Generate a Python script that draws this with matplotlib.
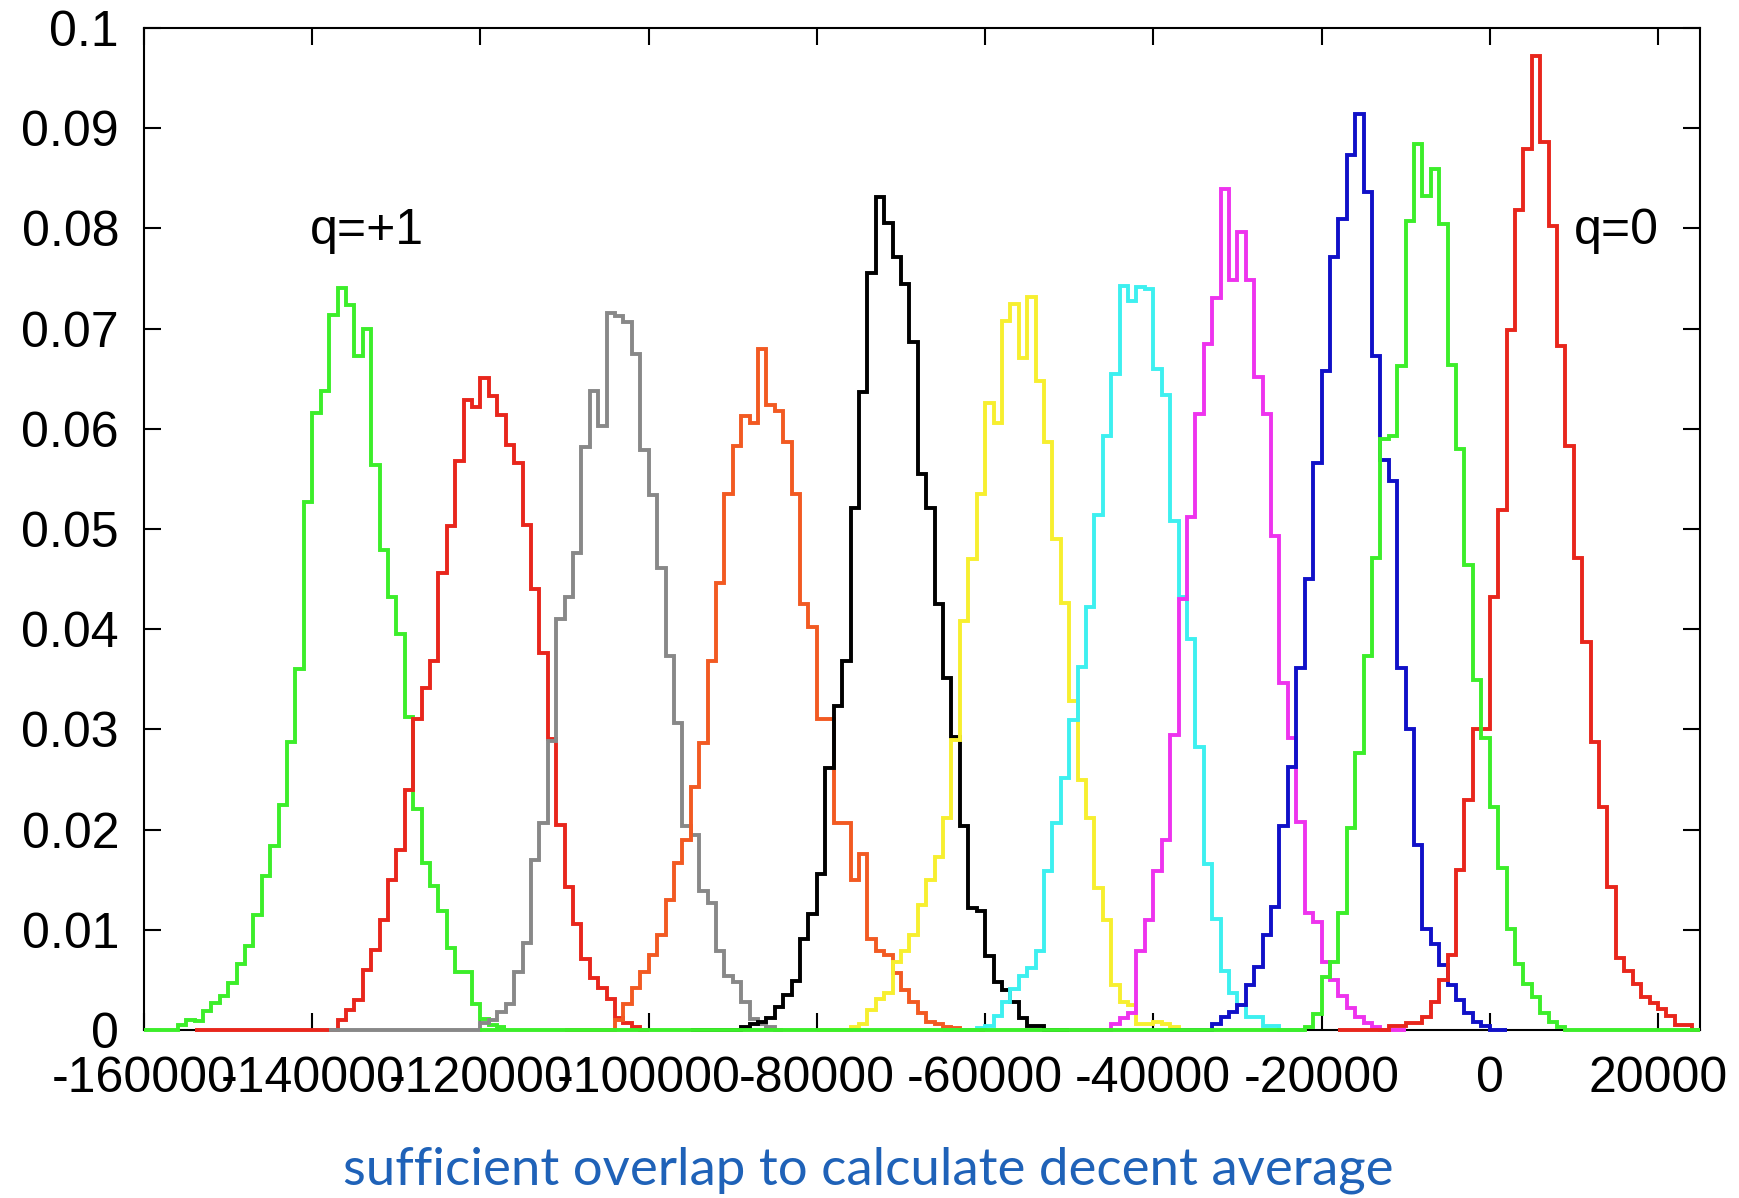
import numpy as np
import matplotlib.pyplot as plt

plt.rcParams['font.family'] = ['Liberation Sans', 'DejaVu Sans']

# bin width 1000, each histogram: first bin (in units of 1000) and heights
bin_w = 1000

green1_start = -156
green1 = [0.0005, 0.001, 0.0009, 0.0019, 0.0027, 0.0034, 0.0047, 0.0066, 0.0084, 0.0115,
          0.0154, 0.0184, 0.0225, 0.0287, 0.036, 0.0527, 0.0616, 0.0638, 0.0714, 0.0741,
          0.0724, 0.0673, 0.070, 0.0564, 0.0479, 0.0432, 0.0395, 0.0312, 0.0221, 0.0167,
          0.0144, 0.0119, 0.0082, 0.0058, 0.0058, 0.0026, 0.0011, 0.0005, 0.0003]

red1_start = -137
red1 = [0.001, 0.002, 0.003, 0.006, 0.008, 0.011, 0.015, 0.018, 0.024, 0.031,
        0.0341, 0.0368, 0.0456, 0.0503, 0.0568, 0.0629, 0.0622, 0.0651, 0.0633, 0.0614,
        0.0584, 0.0566, 0.0504, 0.044, 0.0376, 0.029, 0.0205, 0.0143, 0.0106, 0.0071,
        0.0052, 0.0042, 0.0031, 0.0012, 0.0007, 0.0003]

gray_start = -120
gray = [0.0007, 0.001, 0.0018, 0.0026, 0.0058, 0.0087, 0.017, 0.0207, 0.0288, 0.041,
        0.0432, 0.0476, 0.0582, 0.0638, 0.0603, 0.0716, 0.0713, 0.0707, 0.0675, 0.0579,
        0.0534, 0.0461, 0.0373, 0.0306, 0.0204, 0.0195, 0.0139, 0.0127, 0.0079, 0.0054,
        0.0048, 0.0028, 0.0011, 0.0006, 0.0003]

orange_start = -104
orange = [0.001, 0.0026, 0.0042, 0.0058, 0.0075, 0.0095, 0.013, 0.0167, 0.019, 0.0243,
          0.0286, 0.0368, 0.0446, 0.0535, 0.0583, 0.0613, 0.0606, 0.068, 0.0624, 0.0618,
          0.0587, 0.0535, 0.0425, 0.0402, 0.031, 0.031, 0.0207, 0.0207, 0.015, 0.0176,
          0.0091, 0.0079, 0.0075, 0.0057, 0.004, 0.0028, 0.0017, 0.0008, 0.0006, 0.0003,
          0.0002]

black_start = -89
black = [0.0003, 0.0006, 0.0008, 0.0012, 0.0023, 0.0035, 0.0049, 0.0091, 0.0116, 0.0156,
         0.0262, 0.0323, 0.0368, 0.0521, 0.0637, 0.0756, 0.0831, 0.0805, 0.0771, 0.0745,
         0.0687, 0.0555, 0.0521, 0.0425, 0.0351, 0.0292, 0.0204, 0.0122, 0.0119, 0.0074,
         0.0048, 0.004, 0.0028, 0.0012, 0.0004, 0.0004]

yellow_start = -76
yellow = [0.0003, 0.0006, 0.002, 0.0031, 0.0037, 0.0068, 0.0079, 0.0095, 0.0125, 0.015,
          0.0173, 0.0212, 0.0289, 0.0408, 0.047, 0.0535, 0.0626, 0.0606, 0.0708, 0.0725,
          0.0671, 0.0732, 0.0648, 0.0587, 0.049, 0.0426, 0.0328, 0.025, 0.0212, 0.0142,
          0.011, 0.0045, 0.0028, 0.0025, 0.0006, 0.0006, 0.0008, 0.0006, 0.0003]

cyan_start = -61
cyan = [0.0002, 0.0004, 0.0014, 0.0028, 0.0041, 0.0054, 0.0062, 0.0079, 0.0159, 0.0207,
        0.0252, 0.0309, 0.0362, 0.0422, 0.0514, 0.0593, 0.0655, 0.0743, 0.0728, 0.0742,
        0.074, 0.066, 0.0634, 0.0508, 0.0432, 0.039, 0.0282, 0.0166, 0.0111, 0.0059,
        0.0037, 0.0025, 0.0013, 0.0013, 0.0004, 0.0004]

magenta_start = -45
magenta = [0.0006, 0.0012, 0.0017, 0.0079, 0.011, 0.0159, 0.019, 0.0294, 0.043, 0.0512,
           0.0615, 0.0685, 0.0731, 0.0839, 0.0749, 0.0796, 0.0749, 0.0652, 0.0615, 0.0493,
           0.0346, 0.0291, 0.0208, 0.0117, 0.0108, 0.0068, 0.005, 0.0034, 0.0022, 0.0013,
           0.0007, 0.0003]

blue_start = -33
blue = [0.0006, 0.0013, 0.0018, 0.0025, 0.0045, 0.0063, 0.0095, 0.0123, 0.0204, 0.0263,
        0.0361, 0.045, 0.0566, 0.0658, 0.0771, 0.0809, 0.0873, 0.0914, 0.0836, 0.0673,
        0.0569, 0.0548, 0.0361, 0.030, 0.0185, 0.0101, 0.0086, 0.0065, 0.0045, 0.003,
        0.0017, 0.0008, 0.0004]

red0_start = -12
red0 = [0.0004, 0.0004, 0.0007, 0.0007, 0.0013, 0.0028, 0.005, 0.0075, 0.016, 0.023,
        0.030, 0.030, 0.0432, 0.0519, 0.0699, 0.0818, 0.0879, 0.0972, 0.0886, 0.0802,
        0.0683, 0.0583, 0.0471, 0.0387, 0.0287, 0.0223, 0.0143, 0.0072, 0.0059, 0.0046,
        0.0033, 0.0027, 0.0021, 0.0014, 0.0005, 0.0005]

green2_start = -22
green2 = [0.0003, 0.0016, 0.0053, 0.0068, 0.0117, 0.0202, 0.0276, 0.0373, 0.0471, 0.059,
          0.0593, 0.0663, 0.0807, 0.0884, 0.0832, 0.0859, 0.0804, 0.0664, 0.058, 0.0464,
          0.0349, 0.0291, 0.0223, 0.0162, 0.0101, 0.0066, 0.0046, 0.0033, 0.0017, 0.0008,
          0.0003]

# range (units of 1000) over which each histogram is drawn, zeros outside data
hists = [
    (green1_start, green1, (-160, -117), '#3cee2a'),
    (red1_start, red1, (-154, -100), '#e8261c'),
    (gray_start, gray, (-138, -84), '#888888'),
    (orange_start, orange, (-110, -60), '#f25a22'),
    (black_start, black, (-95, -50), '#000000'),
    (yellow_start, yellow, (-80, -35), '#f7ef2f'),
    (cyan_start, cyan, (-65, -22), '#3df0f0'),
    (magenta_start, magenta, (-50, -10), '#ee33ee'),
    (blue_start, blue, (-38, 2), '#1010c8'),
    (red0_start, red0, (-18, 25), '#e8261c'),
    (green2_start, green2, (-120, 25), '#3cee2a'),
]

xticks = list(range(-160000, 20001, 20000))
yticks = [round(0.01 * i, 2) for i in range(11)]

fig = plt.figure(figsize=(17.4, 11.98), dpi=100)
ax = fig.add_axes([0.0828, 0.1402, 0.8942, 0.8364])

for start, vals, (lo, hi), col in hists:
    n = hi - lo
    h = np.zeros(n)
    h[start - lo:start - lo + len(vals)] = vals
    edges = (lo + np.arange(n + 1)) * bin_w
    ax.stairs(h, edges, baseline=None, color=col, linewidth=2.8,
              zorder=3, clip_on=False)

ax.set_xlim(-160000, 25000)
ax.set_ylim(0, 0.1)
ax.set_xticks(xticks)
ax.set_xticklabels([str(t) for t in xticks])
ax.set_yticks(yticks)
ax.set_yticklabels([f'{t:g}' for t in yticks])
ax.tick_params(direction='in', length=12, width=1.5, top=True, right=True,
               labelsize=36)
ax.tick_params(axis='y', pad=18)
ax.tick_params(axis='x', pad=19)
for s in ax.spines.values():
    s.set_linewidth(1.5)

ax.text(-133500, 0.0797, 'q=+1', ha='center', va='center', fontsize=36)
ax.text(15000, 0.0797, 'q=0', ha='center', va='center', fontsize=36)

fig.text(0.499, 0.011, 'sufficient overlap to calculate decent average',
         ha='center', va='baseline', fontsize=38, color='#1f62b8', family='Lato')

fig.savefig('out.png', dpi=100)
